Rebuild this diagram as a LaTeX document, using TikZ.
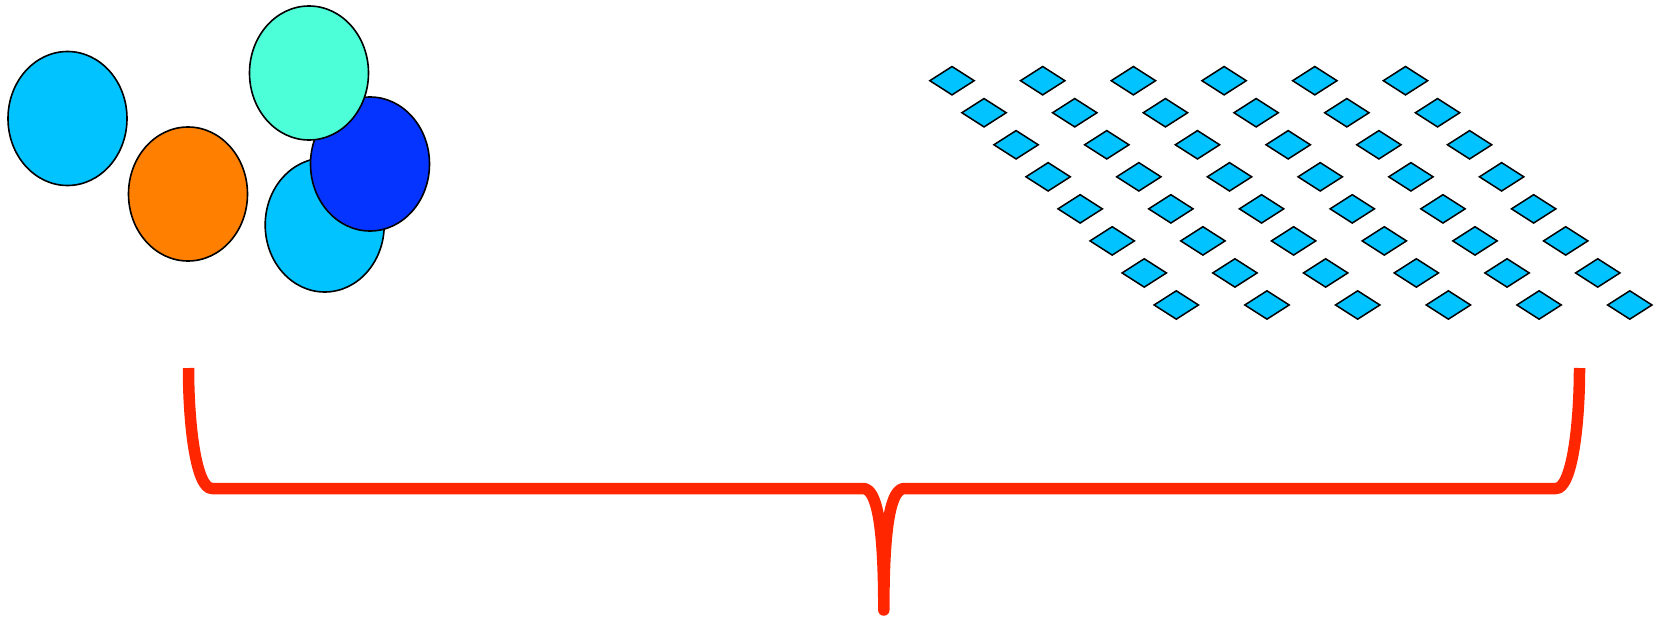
\documentclass[tikz,border=0pt]{standalone}
\usetikzlibrary{shapes.geometric}
\definecolor{skyc}{HTML}{00C3FF}
\definecolor{orangec}{HTML}{FF7F00}
\definecolor{turqc}{HTML}{4DFFD8}
\definecolor{bluec}{HTML}{0533FF}
\definecolor{redc}{HTML}{FF2600}
\tikzset{
  blob/.style={ellipse, draw=black, line width=1.6pt, inner sep=0pt,
    minimum width=119pt, minimum height=134pt},
  tile/.style={diamond, draw=black, fill=skyc, line width=1.5pt, inner sep=0pt,
    shape aspect=1.53, minimum width=45pt, minimum height=29pt},
  bracepath/.style={draw=redc, line width=11.5pt, line join=round, line cap=butt}
}
\begin{document}
\begin{tikzpicture}[x=1pt,y=-1pt]
\useasboundingbox (0,0) rectangle (1657,618);
% circles
\node[blob, fill=skyc] (c1) at (67.5,118.5) {};
\node[blob, fill=orangec] (c2) at (188,194) {};
\node[blob, fill=skyc] (c3) at (324.7,225) {};
\node[blob, fill=bluec] (c4) at (370,164) {};
\node[blob, fill=turqc] (c5) at (309,73) {};
% diamonds grid
\foreach \r in {0,...,7}{
  \foreach \c in {0,...,5}{
    \node[tile] (d-\r-\c) at ({952+90.7*\c+32.04*\r},{80.7+32.04*\r}) {};
  }
}
% brace
\draw[bracepath] (188.5,368) .. controls (188.5,425) and (196,488.5) .. (212,488.5)
  -- (863,488.5) .. controls (876,488.5) and (883.8,520) .. (883.8,610)
  .. controls (883.8,520) and (891.6,488.5) .. (904.6,488.5)
  -- (1556,488.5) .. controls (1572,488.5) and (1579.5,425) .. (1579.5,368);
\end{tikzpicture}
\end{document}
